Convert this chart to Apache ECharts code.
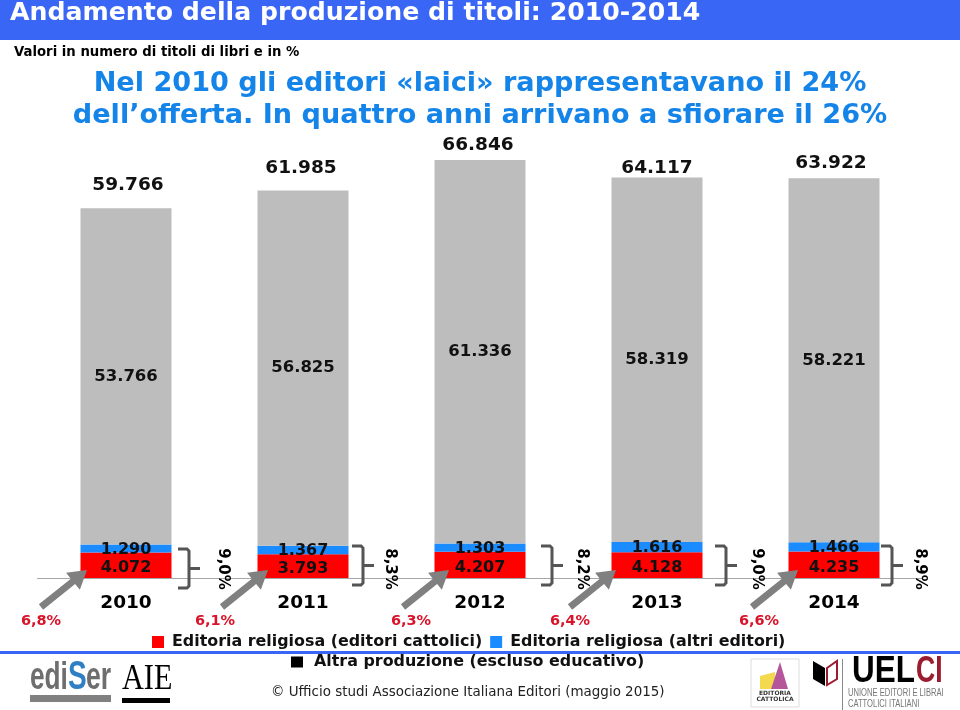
<!DOCTYPE html>
<html>
<head>
<meta charset="utf-8">
<style>html,body{margin:0;padding:0;background:#fff}#c{width:960px;height:710px}</style>
<script src="https://cdn.jsdelivr.net/npm/echarts@6/dist/echarts.min.js"></script>
</head>
<body>
<div id="c"></div>
<script>
const years = ['2010', '2011', '2012', '2013', '2014'];
const catholic = [4072, 3793, 4207, 4128, 4235];
const otherReligious = [1290, 1367, 1303, 1616, 1466];
const otherProduction = [53766, 56825, 61336, 58319, 58221];
const totals = [59766, 61985, 66846, 64117, 63922];
const sharePct = ['9,0%', '8,3%', '8,2%', '9,0%', '8,9%'];
const catholicPct = ['6,8%', '6,1%', '6,3%', '6,4%', '6,6%'];
const totalLabelOffsets = [[2, -19], [-2, -22], [-2, -15], [0, -9], [-3, -15]];
const bracketOffsets = [[52, -29, 10], [49, -32, 7], [61, -32, 7], [58, -32, 7], [47, -32, 7]];
const shareOffsets = [97, 87, 102, 100, 86];
const arrowStarts = [-85, -81, -77, -87, -82];
const pctOffsets = [-85, -88, -69, -87, -75];

const FONT = '"DejaVu Sans", Verdana, sans-serif';
const BLUE = '#3a66f5';
const fmt = v => String(v).replace(/\B(?=(\d{3})+$)/g, '.');

const chart = echarts.init(document.getElementById('c'), null, { renderer: 'canvas' });

function annotation(params, api) {
  const i = api.value(0);
  const p = api.coord([i, 0]);
  const cx = p[0], y0 = p[1];
  const c = [];
  const ax = cx + arrowStarts[i], ay = y0 + 29, tx = ax + 46, ty = y0 - 8;
  const ang = Math.atan2(ty - ay, tx - ax), ca = Math.cos(ang), sa = Math.sin(ang);
  const L = Math.hypot(tx - ax, ty - ay), w = 3.4, hw = 11, hl = 18;
  const tf = (u, v) => [ax + u * ca - v * sa, ay + u * sa + v * ca];
  c.push({ type: 'polygon', shape: { points: [tf(0, -w), tf(L - hl, -w), tf(L - hl, -hw), tf(L, 0), tf(L - hl, hw), tf(L - hl, w), tf(0, w)] }, style: { fill: '#808080' } });
  const b = bracketOffsets[i];
  const bx = cx + b[0], top = y0 + b[1], bot = top + 39, mid = top + 19.5;
  c.push({ type: 'polyline', shape: { points: [[bx, top], [bx + 9, top], [bx + 11, top + 2], [bx + 11, bot - 2], [bx + 9, bot], [bx, bot]] }, style: { stroke: '#555', lineWidth: 3, fill: 'none' } });
  c.push({ type: 'line', shape: { x1: bx + 11, y1: mid, x2: bx + 22, y2: mid }, style: { stroke: '#555', lineWidth: 3 } });
  c.push({ type: 'text', x: cx + shareOffsets[i], y: y0 - 9, rotation: -Math.PI / 2, style: { text: sharePct[i], fontFamily: FONT, fontWeight: 'bold', fontSize: 15, fill: '#000', align: 'center', verticalAlign: 'middle' } });
  c.push({ type: 'text', x: cx + pctOffsets[i], y: y0 + 43, style: { text: catholicPct[i], fontFamily: FONT, fontWeight: 'bold', fontSize: 14.5, fill: '#d9142a', align: 'center', verticalAlign: 'middle' } });
  const tp = api.coord([i, totals[i]]);
  const o = totalLabelOffsets[i];
  c.push({ type: 'text', x: tp[0] + o[0], y: tp[1] + o[1], style: { text: fmt(totals[i]), fontFamily: FONT, fontWeight: 'bold', fontSize: 18.5, fill: '#111', align: 'center', verticalAlign: 'middle' } });
  return { type: 'group', children: c };
}

const T = (x, y, text, font, fill, extra) => Object.assign({ type: 'text', x, y, z: 5, style: Object.assign({ text, font, fill, align: 'left', verticalAlign: 'middle' }, extra && extra.style) }, extra && extra.props);

chart.setOption({
  animation: false,
  backgroundColor: '#fff',
  grid: { left: 37.5, right: 37.5, top: 140.3, bottom: 132, containLabel: false },
  xAxis: {
    type: 'category', data: years,
    axisTick: { show: false },
    axisLine: { lineStyle: { color: '#a6a6a6', width: 1 } },
    axisLabel: { color: '#000', fontFamily: FONT, fontWeight: 'bold', fontSize: 18.5, margin: 16 }
  },
  yAxis: { type: 'value', min: 0, max: 70000, show: false, splitLine: { show: false } },
  legend: [
    { data: [{ name: 'Editoria religiosa (editori cattolici)' }, { name: 'Editoria religiosa (altri editori)' }], top: 634, left: 152, itemWidth: 12, itemHeight: 12, itemGap: 8, icon: 'rect', textStyle: { fontFamily: FONT, fontWeight: 'bold', fontSize: 15.9, color: '#111', padding: [0, 0, 0, 3] }, padding: 0 },
    { data: [{ name: 'Altra produzione (escluso educativo)', itemStyle: { color: '#000' } }], top: 654, left: 291, itemWidth: 12, itemHeight: 11, icon: 'rect', textStyle: { fontFamily: FONT, fontWeight: 'bold', fontSize: 15.9, color: '#111', padding: [0, 0, 0, 6] }, padding: 0 }
  ],
  series: [
    { name: 'Editoria religiosa (editori cattolici)', type: 'bar', stack: 'a', barWidth: 91, data: catholic, itemStyle: { color: '#ff0000' },
      label: { show: true, position: 'inside', formatter: p => fmt(p.value), color: '#111', fontFamily: FONT, fontWeight: 'bold', fontSize: 16, offset: [0, 3] } },
    { name: 'Editoria religiosa (altri editori)', type: 'bar', stack: 'a', barWidth: 91, data: otherReligious, itemStyle: { color: '#1a8cff' },
      label: { show: true, position: 'inside', formatter: p => fmt(p.value), color: '#111', fontFamily: FONT, fontWeight: 'bold', fontSize: 16, offset: [0, 1] } },
    { name: 'Altra produzione (escluso educativo)', type: 'bar', stack: 'a', barWidth: 91, data: otherProduction, itemStyle: { color: '#bdbdbd' },
      label: { show: true, position: 'inside', formatter: p => fmt(p.value), color: '#111', fontFamily: FONT, fontWeight: 'bold', fontSize: 16.5 } },
    { type: 'custom', data: years.map((y, i) => [i]), encode: { x: 0 }, renderItem: annotation, clip: false, silent: true, z: 6 }
  ],
  graphic: [
    { type: 'rect', shape: { x: 0, y: 0, width: 960, height: 40 }, style: { fill: BLUE }, z: 4 },
    { type: 'rect', shape: { x: 0, y: 651, width: 960, height: 3 }, style: { fill: BLUE }, z: 1 },
    T(10, 13, 'Andamento della produzione di titoli: 2010-2014', 'bold 25.2px ' + FONT, '#fff'),
    T(14, 52.5, 'Valori in numero di titoli di libri e in %', 'bold 13.25px ' + FONT, '#000'),
    T(480, 84, 'Nel 2010 gli editori «laici» rappresentavano il 24%', 'bold 27.1px ' + FONT, '#1584e8', { style: { align: 'center' } }),
    T(480, 116, 'dell’offerta. In quattro anni arrivano a sfiorare il 26%', 'bold 27.1px ' + FONT, '#1584e8', { style: { align: 'center' } }),
    T(271, 693, '© Ufficio studi Associazione Italiana Editori (maggio 2015)', '13.45px ' + FONT, '#222'),
    T(30, 679, 'edi', 'bold 38px "Liberation Sans", sans-serif', '#6e6e6e', { props: { scaleX: 0.69 } }),
    T(68, 678, 'S', 'bold 40px "Liberation Sans", sans-serif', '#2f7fc4', { props: { scaleX: 0.7 } }),
    T(86, 679, 'er', 'bold 38px "Liberation Sans", sans-serif', '#6e6e6e', { props: { scaleX: 0.7 } }),
    { type: 'rect', shape: { x: 30, y: 695, width: 81, height: 7 }, style: { fill: '#808080' }, z: 5 },
    T(122, 680, 'AIE', '36px "Liberation Serif", serif', '#000', { props: { scaleX: 0.84 } }),
    { type: 'rect', shape: { x: 122, y: 698, width: 48, height: 5 }, style: { fill: '#000' }, z: 5 },
    { type: 'rect', shape: { x: 751, y: 659, width: 48, height: 48 }, style: { fill: '#fff', stroke: '#ddd', lineWidth: 1 }, z: 5 },
    { type: 'polygon', shape: { points: [[760, 676], [775, 672], [775, 689], [760, 689]] }, style: { fill: '#f2d94e' }, z: 5 },
    { type: 'polygon', shape: { points: [[780, 662], [788, 689], [771, 689]] }, style: { fill: '#b5569a' }, z: 5 },
    T(775, 693, 'EDITORIA', 'bold 6px ' + FONT, '#333', { style: { align: 'center' } }),
    T(775, 699, 'CATTOLICA', 'bold 6px ' + FONT, '#333', { style: { align: 'center' } }),
    { type: 'polygon', shape: { points: [[813, 661], [825, 668], [825, 686], [813, 679]] }, style: { fill: '#000' }, z: 5 },
    { type: 'polygon', shape: { points: [[827, 668], [837, 661], [837, 679], [827, 685]] }, style: { fill: '#fff', stroke: '#9b1c2e', lineWidth: 2 }, z: 5 },
    { type: 'rect', shape: { x: 842, y: 659, width: 1, height: 51 }, style: { fill: '#888' }, z: 5 },
    T(852, 672, 'UEL', 'bold 37px "Liberation Sans", sans-serif', '#000', { props: { scaleX: 0.85 } }),
    T(916, 672, 'CI', 'bold 37px "Liberation Sans", sans-serif', '#9b1c2e', { props: { scaleX: 0.72 } }),
    T(848, 693, 'UNIONE EDITORI E LIBRAI', '11.5px "Liberation Sans", sans-serif', '#777', { props: { scaleX: 0.66 } }),
    T(848, 704, 'CATTOLICI ITALIANI', '11.5px "Liberation Sans", sans-serif', '#777', { props: { scaleX: 0.66 } })
  ]
});
</script>
</body>
</html>
